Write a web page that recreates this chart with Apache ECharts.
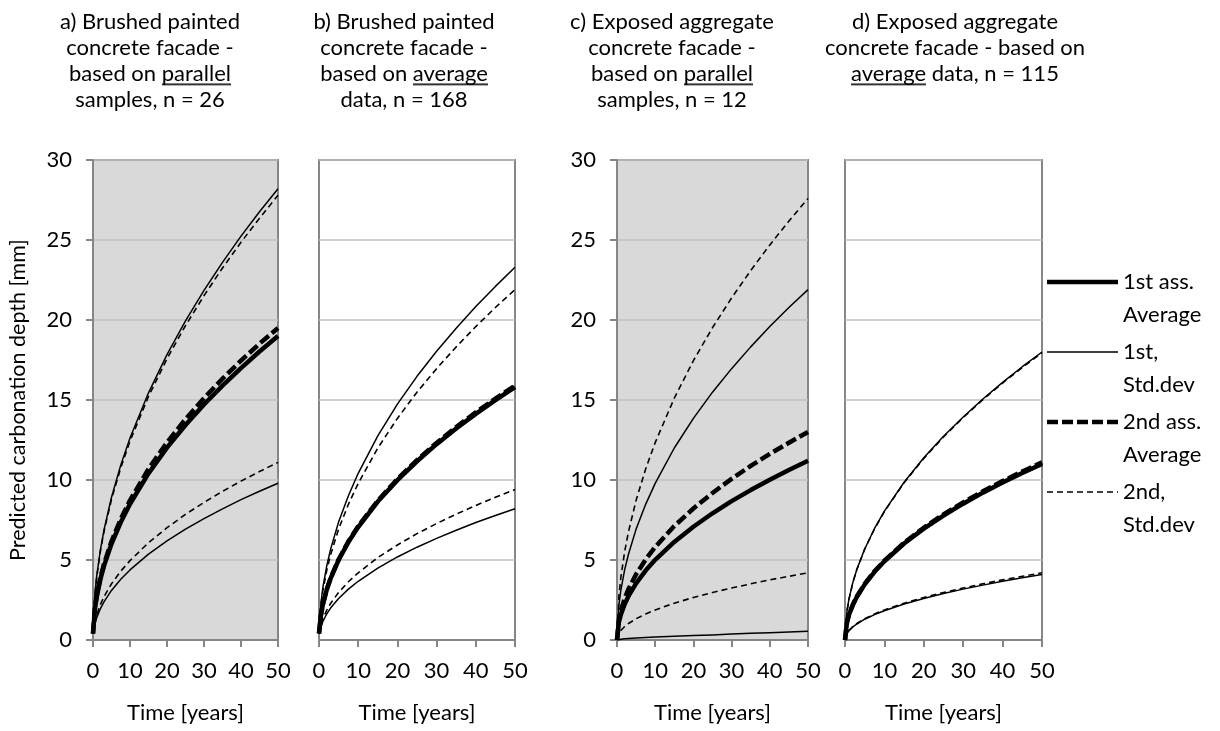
<!DOCTYPE html>
<html><head><meta charset="utf-8">
<script src="https://cdn.jsdelivr.net/npm/echarts@6/dist/echarts.min.js"></script>
<style>html,body{margin:0;padding:0;background:#fff}#c{width:1220px;height:731px}</style>
</head><body><div id="c"></div>
<script>
// ---- data ----
const years = [0, 0.5, 1, 2, 3, 5, 7.5, 10, 15, 20, 25, 30, 35, 40, 45, 50];
const xTicks = [0, 10, 20, 30, 40, 50];
const yTicks = [0, 5, 10, 15, 20, 25, 30];

// a) brushed painted, parallel samples
const a_avg1 = [0.4, 1.9, 2.69, 3.80, 4.65, 6.01, 7.36, 8.50, 10.41, 12.02, 13.44, 14.72, 15.90, 16.99, 18.03, 19.0];
const a_sd1Up = [0.4, 2.82, 3.99, 5.64, 6.91, 8.92, 10.93, 12.62, 15.45, 17.84, 19.95, 21.85, 23.60, 25.24, 26.77, 28.2];
const a_sd1Lo = [0.4, 0.98, 1.39, 1.96, 2.40, 3.10, 3.80, 4.38, 5.37, 6.20, 6.93, 7.59, 8.20, 8.77, 9.30, 9.8];
const a_avg2 = [0.4, 1.95, 2.76, 3.90, 4.78, 6.17, 7.56, 8.73, 10.69, 12.34, 13.80, 15.12, 16.33, 17.46, 18.52, 19.5];
const a_sd2Up = [0.4, 2.78, 3.93, 5.56, 6.81, 8.79, 10.76, 12.43, 15.22, 17.58, 19.65, 21.52, 23.25, 24.86, 26.36, 27.8];
const a_sd2Lo = [0.4, 1.11, 1.57, 2.22, 2.72, 3.51, 4.30, 4.96, 6.08, 7.02, 7.85, 8.60, 9.29, 9.93, 10.53, 11.1];

// b) brushed painted, average data
const b_avg1 = [0.4, 1.58, 2.23, 3.16, 3.87, 5.00, 6.12, 7.06, 8.65, 9.99, 11.17, 12.24, 13.22, 14.13, 14.99, 15.8];
const b_sd1Up = [0.4, 2.33, 3.30, 4.66, 5.71, 7.37, 9.02, 10.42, 12.76, 14.74, 16.48, 18.05, 19.49, 20.84, 22.10, 23.3];
const b_sd1Lo = [0.4, 0.82, 1.16, 1.64, 2.01, 2.59, 3.18, 3.67, 4.49, 5.19, 5.80, 6.35, 6.86, 7.34, 7.78, 8.2];
const b_avg2 = [0.4, 1.59, 2.25, 3.18, 3.90, 5.03, 6.16, 7.11, 8.71, 10.06, 11.24, 12.32, 13.31, 14.23, 15.09, 15.9];
const b_sd2Up = [0.4, 2.19, 3.10, 4.38, 5.36, 6.93, 8.48, 9.79, 12.0, 13.85, 15.49, 16.96, 18.32, 19.59, 20.78, 21.9];
const b_sd2Lo = [0.4, 0.94, 1.33, 1.88, 2.30, 2.97, 3.64, 4.20, 5.15, 5.94, 6.65, 7.28, 7.86, 8.41, 8.92, 9.4];

// c) exposed aggregate, parallel samples
const c_avg1 = [0, 1.12, 1.58, 2.24, 2.74, 3.54, 4.34, 5.01, 6.13, 7.08, 7.92, 8.68, 9.37, 10.02, 10.63, 11.2];
const c_sd1Up = [0, 2.19, 3.10, 4.38, 5.36, 6.93, 8.48, 9.79, 12.0, 13.85, 15.49, 16.96, 18.32, 19.59, 20.78, 21.9];
const c_sd1Lo = [0, 0.03, 0.05, 0.08, 0.10, 0.13, 0.16, 0.19, 0.24, 0.28, 0.32, 0.37, 0.42, 0.46, 0.50, 0.55];
const c_avg2 = [0, 1.30, 1.84, 2.60, 3.18, 4.11, 5.03, 5.81, 7.12, 8.22, 9.19, 10.07, 10.88, 11.63, 12.33, 13.0];
const c_sd2Up = [0, 2.76, 3.90, 5.52, 6.76, 8.73, 10.69, 12.34, 15.12, 17.46, 19.52, 21.38, 23.09, 24.69, 26.18, 27.6];
const c_sd2Lo = [0, 0.42, 0.59, 0.84, 1.03, 1.33, 1.63, 1.88, 2.30, 2.66, 2.97, 3.25, 3.51, 3.76, 3.98, 4.2];

// d) exposed aggregate, average data
const d_avg1 = [0, 1.10, 1.56, 2.20, 2.69, 3.48, 4.26, 4.92, 6.03, 6.96, 7.78, 8.52, 9.21, 9.84, 10.44, 11.0];
const d_sd1Up = [0, 1.80, 2.55, 3.60, 4.41, 5.69, 6.97, 8.05, 9.86, 11.39, 12.73, 13.94, 15.06, 16.10, 17.08, 18.0];
const d_sd1Lo = [0, 0.41, 0.58, 0.82, 1.00, 1.30, 1.59, 1.83, 2.25, 2.59, 2.90, 3.18, 3.43, 3.67, 3.89, 4.1];
const d_avg2 = [0, 1.11, 1.57, 2.22, 2.72, 3.51, 4.30, 4.96, 6.08, 7.02, 7.85, 8.60, 9.29, 9.93, 10.53, 11.1];
const d_sd2Up = [0, 1.80, 2.54, 3.59, 4.40, 5.68, 6.95, 8.03, 9.83, 11.35, 12.69, 13.91, 15.02, 16.06, 17.03, 17.95];
const d_sd2Lo = [0, 0.42, 0.59, 0.84, 1.03, 1.33, 1.63, 1.88, 2.30, 2.66, 2.97, 3.25, 3.51, 3.76, 3.98, 4.2];

const panelTitles = [
  ['a) Brushed painted', 'concrete facade -', 'based on {u|parallel}', 'samples, n = 26'],
  ['b) Brushed painted', 'concrete facade -', 'based on {u|average}', 'data, n = 168'],
  ['c) Exposed aggregate', 'concrete facade -', 'based on {u|parallel}', 'samples, n = 12'],
  ['d) Exposed aggregate', 'concrete facade - based on', '{u|average} data, n = 115']
];
const legendNames = [['1st ass.', 'Average'], ['1st,', 'Std.dev'], ['2nd ass.', 'Average'], ['2nd,', 'Std.dev']];
const xName = 'Time [years]';
const yName = 'Predicted carbonation depth [mm]';

// ---- layout / style ----
const FONT = 'Lato';
const FS = 22;
const grids = [
  {left: 93, top: 160, width: 185, height: 480, bg: '#d9d9d9', labels: true},
  {left: 319, top: 160, width: 196, height: 480, bg: '#ffffff', labels: false},
  {left: 617, top: 160, width: 191, height: 480, bg: '#d9d9d9', labels: true},
  {left: 845, top: 160, width: 197, height: 480, bg: '#ffffff', labels: false}
];
const titleCenters = [150, 404, 672, 955];
const panelData = [
  [a_avg1, a_sd1Up, a_sd1Lo, a_avg2, a_sd2Up, a_sd2Lo],
  [b_avg1, b_sd1Up, b_sd1Lo, b_avg2, b_sd2Up, b_sd2Lo],
  [c_avg1, c_sd1Up, c_sd1Lo, c_avg2, c_sd2Up, c_sd2Lo],
  [d_avg1, d_sd1Up, d_sd1Lo, d_avg2, d_sd2Up, d_sd2Lo]
];
const styles = [
  {width: 4.5, type: 'solid'},
  {width: 1.5, type: 'solid'},
  {width: 1.5, type: 'solid'},
  {width: 4.5, type: [11, 4]},
  {width: 1.6, type: [6, 4]},
  {width: 1.6, type: [6, 4]}
];
const legendStyles = [styles[0], styles[1], styles[3], styles[4]];

// underline image for rich text
const ul = document.createElement('canvas');
ul.width = 20; ul.height = 25;
(function(){ const g = ul.getContext('2d'); g.fillStyle = '#000'; g.fillRect(0, 22, 20, 1.6); })();

const gridOpt = [], xAxes = [], yAxes = [], series = [], graphic = [];
grids.forEach((g, i) => {
  gridOpt.push({left: g.left, top: g.top, width: g.width, height: g.height, show: true,
    backgroundColor: g.bg, borderColor: '#868686', borderWidth: 2, containLabel: false});
  xAxes.push({type: 'value', gridIndex: i, min: 0, max: 50, interval: 10,
    name: xName, nameLocation: 'middle', nameGap: 62,
    nameTextStyle: {fontFamily: FONT, fontSize: FS, color: '#000'},
    axisLine: {show: true, onZero: false, lineStyle: {color: '#868686', width: 2}},
    axisTick: {show: true, inside: false, length: 7, lineStyle: {color: '#868686', width: 2}},
    axisLabel: {show: true, margin: 20, fontFamily: FONT, fontSize: FS, color: '#000'},
    splitLine: {show: false}});
  yAxes.push({type: 'value', gridIndex: i, min: 0, max: 30, interval: 5,
    name: i === 0 ? yName : '', nameLocation: 'middle', nameGap: 64,
    nameTextStyle: {fontFamily: FONT, fontSize: 21.5, color: '#000'},
    axisLine: {show: g.labels, lineStyle: {color: '#868686', width: 2}},
    axisTick: {show: g.labels, inside: false, length: 7, lineStyle: {color: '#868686', width: 2}},
    axisLabel: {show: g.labels, margin: 21, fontFamily: FONT, fontSize: FS, color: '#000'},
    splitLine: {show: true, lineStyle: {color: '#bfbfbf', width: 1.5}}});
  panelData[i].forEach((arr, k) => {
    series.push({type: 'line', xAxisIndex: i, yAxisIndex: i, symbol: 'none',
      smooth: false, silent: true, animation: false,
      lineStyle: {color: '#000', width: styles[k].width, type: styles[k].type, cap: 'butt', join: 'round'},
      data: years.map((t, j) => [t, arr[j]])});
  });
  graphic.push({type: 'text', x: titleCenters[i], y: 9, silent: true,
    style: {text: panelTitles[i].join('\n'), fontFamily: FONT, fontSize: FS, lineHeight: 26,
      align: 'center', verticalAlign: 'top', fill: '#000',
      rich: {u: {fontFamily: FONT, fontSize: FS, lineHeight: 26, height: 25, fill: '#000',
        backgroundColor: {image: ul}}}}});
});

// legend (drawn as graphic)
const legX0 = 1047, legX1 = 1118, legTop = 282, legStep = 70;
legendNames.forEach((nm, k) => {
  const y = legTop + k * legStep;
  graphic.push({type: 'line', silent: true,
    shape: {x1: legX0, y1: y, x2: legX1, y2: y},
    style: {stroke: '#000', lineWidth: legendStyles[k].width,
      lineDash: legendStyles[k].type === 'solid' ? null : legendStyles[k].type}});
  graphic.push({type: 'text', x: 1123, y: y - 16.5, silent: true,
    style: {text: nm.join('\n'), fontFamily: FONT, fontSize: FS, lineHeight: 33,
      align: 'left', verticalAlign: 'top', fill: '#000'}});
});

const chart = echarts.init(document.getElementById('c'), null, {renderer: 'canvas'});
chart.setOption({
  animation: false,
  backgroundColor: '#ffffff',
  grid: gridOpt, xAxis: xAxes, yAxis: yAxes, series: series, graphic: graphic
});
</script></body></html>
